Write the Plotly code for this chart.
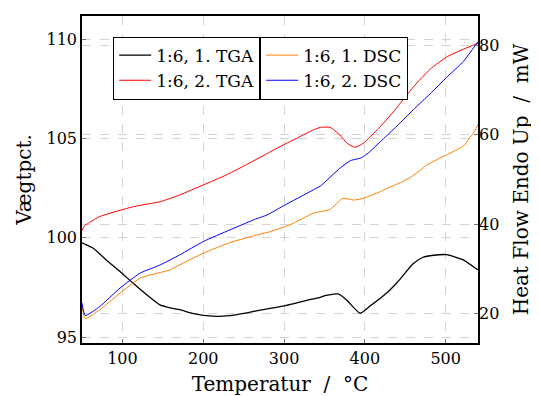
import plotly.graph_objects as go

# ---- data ----
T_tga1 = [50, 64, 80, 97, 113, 130, 146, 159, 171, 188, 212, 233, 254, 274, 303, 328, 345, 352, 367, 377, 394, 406, 427, 440, 460, 472, 485, 501, 521, 540]
w_tga1 = [99.75, 99.47, 98.88, 98.30, 97.72, 97.13, 96.63, 96.47, 96.38, 96.18, 96.05, 96.08, 96.22, 96.38, 96.6, 96.85, 97.0, 97.1, 97.17, 96.88, 96.2, 96.55, 97.22, 97.75, 98.7, 99.02, 99.12, 99.15, 98.9, 98.38]

T_tga2 = [50, 53, 58, 72, 114, 147, 171, 200, 229, 258, 295, 320, 336, 345, 357, 369, 378, 388, 398, 417, 437, 460, 481, 501, 522, 540]
w_tga2 = [100.37, 100.6, 100.74, 101.07, 101.57, 101.82, 102.16, 102.66, 103.17, 103.78, 104.59, 105.1, 105.43, 105.56, 105.56, 105.18, 104.76, 104.56, 104.76, 105.51, 106.43, 107.6, 108.5, 109.1, 109.5, 109.8]

T_dsc1 = [50, 54, 72, 97, 122, 159, 171, 200, 233, 262, 283, 307, 336, 357, 373, 386, 398, 419, 427, 444, 456, 468, 477, 501, 522, 536, 540]
h_dsc1 = [21.6, 18.94, 20.89, 24.61, 27.96, 29.81, 30.93, 33.53, 35.9, 37.4, 38.35, 39.85, 42.45, 43.35, 45.8, 45.4, 45.8, 47.28, 48.0, 49.3, 50.4, 52.0, 53.3, 55.5, 57.5, 60.9, 62.3]

T_dsc2 = [50, 54, 72, 97, 122, 147, 171, 200, 233, 262, 279, 299, 336, 345, 369, 382, 396, 406, 419, 440, 460, 481, 501, 522, 540]
h_dsc2 = [22.4, 19.6, 21.62, 25.73, 29.08, 30.93, 33.16, 36.13, 38.73, 40.96, 42.08, 44.09, 47.66, 48.55, 52.5, 54.2, 54.87, 56.2, 58.43, 62.0, 65.6, 69.2, 72.8, 76.4, 80.8]

FONT = "DejaVu Serif"
GRID = "#d3d3d3"

fig = go.Figure()
fig.add_trace(go.Scatter(x=T_tga1, y=w_tga1, mode="lines", name="1:6, 1. TGA",
                         line=dict(color="black", width=1.3, shape="spline", smoothing=0.5),
                         legend="legend", legendgroup="a"))
fig.add_trace(go.Scatter(x=T_tga2, y=w_tga2, mode="lines", name="1:6, 2. TGA",
                         line=dict(color="#ff0000", width=1.0, shape="spline", smoothing=0.5),
                         legend="legend", legendgroup="b"))
fig.add_trace(go.Scatter(x=T_dsc1, y=h_dsc1, mode="lines", name="1:6, 1. DSC", yaxis="y2",
                         line=dict(color="#ff8000", width=1.0, shape="spline", smoothing=0.5),
                         legend="legend2", legendgroup="c"))
fig.add_trace(go.Scatter(x=T_dsc2, y=h_dsc2, mode="lines", name="1:6, 2. DSC", yaxis="y2",
                         line=dict(color="#0000ff", width=1.0, shape="spline", smoothing=0.5),
                         legend="legend2", legendgroup="d"))

legend_common = dict(bgcolor="white", bordercolor="black", borderwidth=1,
                     font=dict(family=FONT, size=17, color="black"),
                     y=0.937, yanchor="top", tracegroupgap=0, itemwidth=32)

# the page body has an 8px margin; the figure is sized to fill the rest of the window
fig.update_layout(
    width=531, height=388,
    margin=dict(l=74, r=61, t=8, b=53, autoexpand=False),
    paper_bgcolor="white", plot_bgcolor="white",
    font=dict(family=FONT, size=17, color="black"),
    showlegend=True,
    legend=dict(x=0.45, xanchor="right", **legend_common),
    legend2=dict(x=0.45, xanchor="left", **legend_common),
    xaxis=dict(range=[50, 540], tickvals=[100, 200, 300, 400, 500],
               showgrid=True, gridcolor=GRID, griddash="dash", gridwidth=1,
               showline=True, linecolor="black", linewidth=1.5, mirror=True,
               ticks="inside", ticklen=4, tickcolor="#777", zeroline=False,
               automargin=False, tickfont=dict(size=16),
               title=dict(text="Temperatur  /  °C", standoff=14)),
    yaxis=dict(range=[94.7, 111.17], tickvals=[95, 100, 105, 110],
               showgrid=True, gridcolor=GRID, griddash="dash", gridwidth=1,
               showline=True, linecolor="black", linewidth=1.5, mirror=True,
               ticks="inside", ticklen=4, tickcolor="#777", zeroline=False,
               automargin=False, tickfont=dict(size=16),
               title=dict(text="Vægtpct.", standoff=10)),
    yaxis2=dict(range=[13.46, 86.54], tickvals=[20, 40, 60, 80], overlaying="y", side="right",
                showgrid=True, gridcolor=GRID, griddash="dash", gridwidth=1,
                showline=False, ticks="inside", ticklen=4, tickcolor="#777", zeroline=False,
                automargin=False, tickfont=dict(size=16),
                title=dict(text="Heat Flow Endo Up  /  mW", standoff=15)),
)

fig.write_html("out.html")
